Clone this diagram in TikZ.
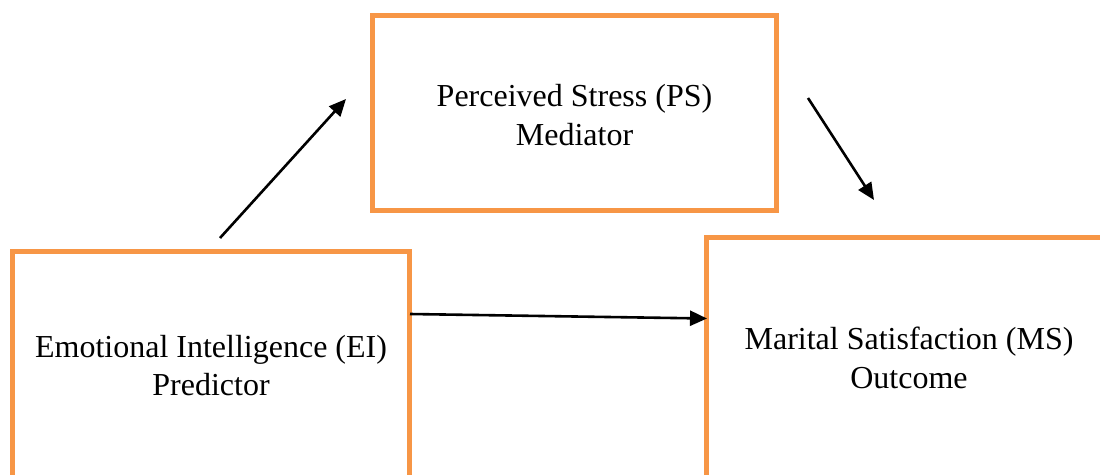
\documentclass[tikz,border=0pt]{standalone}
\usepackage{fontspec}
\setmainfont{Liberation Serif}
\usetikzlibrary{arrows.meta}
\definecolor{boxorange}{HTML}{F79646}
\tikzset{
  boxframe/.style={draw=boxorange, line width=5pt, rectangle, inner sep=0pt},
  boxtext/.style={align=center, anchor=base, inner sep=0pt, font=\fontsize{32}{38.5}\selectfont},
  link/.style={line width=2.6pt, -{Triangle[length=17pt,width=15pt]}}
}
\begin{document}
\begin{tikzpicture}[x=1pt,y=-1pt]
\useasboundingbox (0,0) rectangle (1100,474);
\clip (0,0) rectangle (1100,474);
\node[boxframe, minimum width=404pt, minimum height=195pt] (ps) at (574.5,113) {};
\node[boxframe, minimum width=397pt, minimum height=300pt] (ei) at (211,401.5) {};
\node[boxframe, minimum width=500pt, minimum height=300pt] (ms) at (956.5,387) {};
\node[boxtext] (pst) at (574.5,145) {Perceived Stress (PS)\\Mediator};
\node[boxtext] (eit) at (211,395.5) {Emotional Intelligence (EI)\\Predictor};
\node[boxtext] (mst) at (909,388) {Marital Satisfaction (MS)\\Outcome};
\coordinate (a1s) at (220,238);
\coordinate (a1e) at (346,99);
\coordinate (a2s) at (808,98);
\coordinate (a2e) at (874,200);
\coordinate (a3s) at (410,314);
\coordinate (a3e) at (707,318.5);
\draw[link] (a1s) -- (a1e);
\draw[link] (a2s) -- (a2e);
\draw[link] (a3s) -- (a3e);
\end{tikzpicture}
\end{document}
